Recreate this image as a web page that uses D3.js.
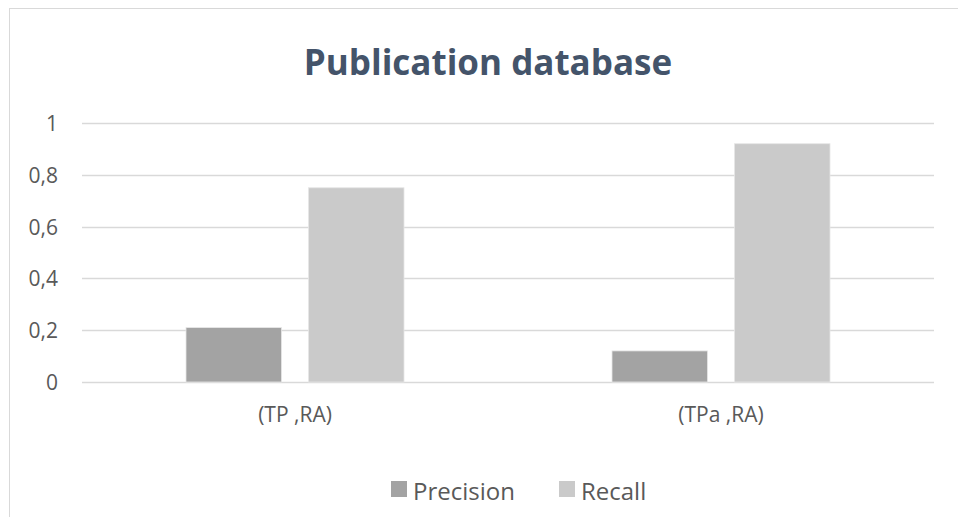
<!DOCTYPE html>
<html>
<head>
<meta charset="utf-8">
<script src="https://cdn.jsdelivr.net/npm/d3@7"></script>
<style>
  body { margin: 0; background: #fff; }
  text { font-family: "Open Sans", "Noto Sans", sans-serif; }
</style>
</head>
<body>
<div id="grafico"></div>
<script>
// Datos
const categorias = ["(TP ,RA)", "(TPa ,RA)"];
const series = ["Precision", "Recall"];
const precision = [0.21, 0.12];
const recall = [0.75, 0.92];
const ticksY = [0, 0.2, 0.4, 0.6, 0.8, 1];
const colores = ["#a3a3a3", "#cacaca"];

const width = 958, height = 517;
const margin = { top: 123, right: 24, bottom: 135, left: 82 };

const svg = d3.select("#grafico")
  .append("svg")
  .attr("width", width)
  .attr("height", height);

// Borde del gráfico
svg.append("line").attr("x1", 9).attr("x2", width).attr("y1", 8.5).attr("y2", 8.5)
  .attr("stroke", "#d9d9d9");
svg.append("line").attr("x1", 9.5).attr("x2", 9.5).attr("y1", 8).attr("y2", height)
  .attr("stroke", "#d9d9d9");

// Titulo
svg.append("text")
  .attr("x", 488).attr("y", 75)
  .attr("text-anchor", "middle")
  .attr("font-size", 35).attr("font-weight", "bold")
  .attr("fill", "#44546a")
  .text("Publication database");

const g = svg.append("g");

// Escalas
const x = d3.scaleBand()
  .domain(categorias)
  .range([margin.left, width - margin.right]);

const x1 = d3.scaleBand()
  .domain(series)
  .range([0, 218])
  .paddingInner(0.22);

const y = d3.scaleLinear()
  .domain([0, 1])
  .range([height - margin.bottom, margin.top]);

// Rejilla
g.selectAll(".grid")
  .data(ticksY)
  .join("line")
  .attr("x1", margin.left).attr("x2", width - margin.right)
  .attr("y1", d => Math.round(y(d)) + 0.5).attr("y2", d => Math.round(y(d)) + 0.5)
  .attr("stroke", "#d9d9d9").attr("stroke-width", 1.3);

// Eje Y
const ejeY = svg.append("g")
  .attr("transform", `translate(${margin.left - 24},0)`)
  .call(d3.axisLeft(y).tickValues(ticksY).tickSize(0)
    .tickFormat(d => String(d).replace(".", ",")));
ejeY.select(".domain").remove();
ejeY.selectAll("text").attr("font-size", 21).attr("fill", "#595959")
  .attr("x", 0)
  .attr("font-family", "Open Sans, Noto Sans, sans-serif").attr("dy", "0.36em");

// Barras
const datos = categorias.map((c, i) => ({ cat: c, valores: [precision[i], recall[i]] }));

const grupo = g.selectAll(".grupo")
  .data(datos)
  .join("g")
  .attr("transform", d => `translate(${x(d.cat) + x.bandwidth() / 2 - 109},0)`);

grupo.selectAll("rect")
  .data(d => d.valores.map((v, j) => ({ s: series[j], v, j })))
  .join("rect")
  .attr("x", d => x1(d.s))
  .attr("width", x1.bandwidth())
  .attr("y", d => y(d.v))
  .attr("height", d => y(0) - y(d.v))
  .attr("fill", d => colores[d.j])
  .attr("stroke", "#e6e6e6").attr("stroke-width", 0.8);

// Eje X
const ejeX = svg.append("g")
  .attr("transform", `translate(0,${y(0)})`)
  .call(d3.axisBottom(x).tickSize(0));
ejeX.select(".domain").remove();
ejeX.selectAll("text").attr("font-size", 21).attr("fill", "#595959")
  .attr("y", 40).attr("dy", 0)
  .attr("font-family", "Open Sans, Noto Sans, sans-serif");

// Leyenda
const leyendaX = [391, 559];
const leyenda = svg.append("g").selectAll("g")
  .data(series)
  .join("g")
  .attr("transform", (d, i) => `translate(${leyendaX[i]},481)`);
leyenda.append("rect").attr("width", 16).attr("height", 16)
  .attr("fill", (d, i) => colores[i]);
leyenda.append("text")
  .attr("x", 22).attr("y", 19)
  .attr("font-size", 24).attr("fill", "#595959")
  .text(d => d);
</script>
</body>
</html>
